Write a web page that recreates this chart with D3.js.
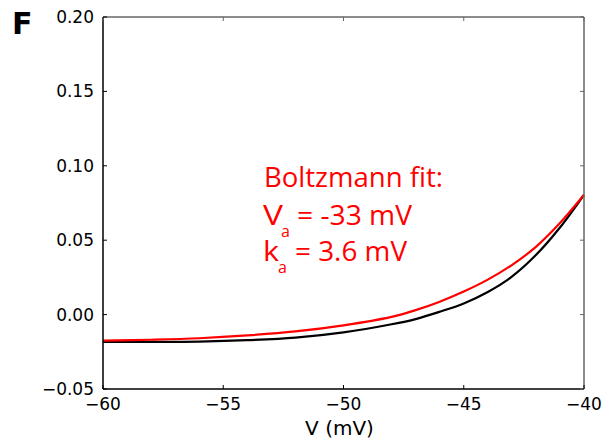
<!DOCTYPE html>
<html>
<head>
<meta charset="utf-8">
<script src="https://cdn.jsdelivr.net/npm/d3@7"></script>
<style>
  body { margin: 0; background: #fff; }
  svg { display: block; }
</style>
</head>
<body>
<svg id="chart" width="613" height="444"></svg>
<script>
(function() {
  // values
  var voltages = [-60, -58, -56, -54, -52, -50, -48, -47, -46, -45, -44, -43, -42, -41, -40];
  var measured = [-0.0183, -0.0183, -0.0181, -0.0172, -0.0155, -0.0120, -0.0065, -0.0030, 0.0019, 0.0075, 0.0152, 0.0255, 0.0400, 0.0585, 0.0805];
  var fitted   = [-0.0175, -0.0169, -0.0159, -0.0140, -0.0113, -0.0072, -0.0015, 0.0030, 0.0087, 0.0155, 0.0235, 0.0333, 0.0455, 0.0615, 0.0805];
  var xTicks = [-60, -55, -50, -45, -40];
  var yTicks = [-0.05, 0.00, 0.05, 0.10, 0.15, 0.20];
  var fitLines = [["Boltzmann fit:"], ["V", "a", "= -33 mV"], ["k", "a", "= 3.6 mV"]];

  var margin = { top: 17, right: 29, bottom: 55, left: 103 },
      outerWidth = 613,
      outerHeight = 444,
      width = outerWidth - margin.left - margin.right,
      height = outerHeight - margin.top - margin.bottom;

  var minus = s => s.replace(/-/g, "\u2212");

  var x = d3.scaleLinear().domain([-60, -40]).range([0, width]);
  var y = d3.scaleLinear().domain([-0.05, 0.20]).range([height, 0]);

  var line = d3.line()
      .x(d => x(d[0]))
      .y(d => y(d[1]))
      .curve(d3.curveCatmullRom.alpha(0.5));

  var root = d3.select("#chart");

  root.append("text")
      .attr("x", 12)
      .attr("y", 34)
      .attr("font-family", "DejaVu Sans")
      .attr("font-weight", "bold")
      .attr("font-size", "30px")
      .text("F");

  var svg = root.append("g")
      .attr("transform", `translate(${margin.left},${margin.top})`);

  // curves
  svg.append("path")
      .attr("fill", "none")
      .attr("stroke", "black")
      .attr("stroke-width", 2.2)
      .attr("d", line(d3.zip(voltages, measured)));

  svg.append("path")
      .attr("fill", "none")
      .attr("stroke", "#ff0000")
      .attr("stroke-width", 2.2)
      .attr("d", line(d3.zip(voltages, fitted)));

  // frame: top/right gray, left/bottom black
  svg.append("line").attr("x1", 0).attr("x2", width).attr("y1", 0).attr("y2", 0)
      .attr("stroke", "#666").attr("stroke-width", 1.5);
  svg.append("line").attr("x1", width).attr("x2", width).attr("y1", 0).attr("y2", height)
      .attr("stroke", "#666").attr("stroke-width", 1.5);
  svg.append("line").attr("x1", 0).attr("x2", 0).attr("y1", 0).attr("y2", height)
      .attr("stroke", "black").attr("stroke-width", 1.5);
  svg.append("line").attr("x1", 0).attr("x2", width).attr("y1", height).attr("y2", height)
      .attr("stroke", "black").attr("stroke-width", 1.5);

  // inward ticks on all four sides
  var tick = 4;
  svg.append("g")
    .selectAll("line")
    .data(xTicks)
    .join("line")
      .attr("x1", d => x(d)).attr("x2", d => x(d))
      .attr("y1", height).attr("y2", height - tick)
      .attr("stroke", "black");
  svg.append("g")
    .selectAll("line")
    .data(xTicks)
    .join("line")
      .attr("x1", d => x(d)).attr("x2", d => x(d))
      .attr("y1", 0).attr("y2", tick)
      .attr("stroke", "#666");
  svg.append("g")
    .selectAll("line")
    .data(yTicks)
    .join("line")
      .attr("x1", 0).attr("x2", tick)
      .attr("y1", d => y(d)).attr("y2", d => y(d))
      .attr("stroke", "black");
  svg.append("g")
    .selectAll("line")
    .data(yTicks)
    .join("line")
      .attr("x1", width).attr("x2", width - tick)
      .attr("y1", d => y(d)).attr("y2", d => y(d))
      .attr("stroke", "#666");

  // tick labels
  svg.append("g")
      .attr("font-family", "DejaVu Sans")
      .attr("font-size", "17px")
      .attr("text-anchor", "middle")
    .selectAll("text")
    .data(xTicks)
    .join("text")
      .attr("x", d => x(d))
      .attr("y", height + 21)
      .text(d => minus(d3.format("d")(d)));

  svg.append("g")
      .attr("font-family", "DejaVu Sans")
      .attr("font-size", "17px")
      .attr("text-anchor", "end")
    .selectAll("text")
    .data(yTicks)
    .join("text")
      .attr("x", -9)
      .attr("y", d => y(d))
      .attr("dy", "0.35em")
      .text(d => minus(d3.format(".2f")(d)));

  svg.append("text")
      .attr("x", width / 2 - 4)
      .attr("y", height + 46)
      .attr("text-anchor", "middle")
      .attr("font-family", "DejaVu Sans")
      .attr("font-size", "20px")
      .text("V (mV)");

  // annotation
  var note = root.append("g")
      .attr("fill", "#ff0000")
      .attr("font-family", "Open Sans");

  note.append("text")
      .attr("x", 264).attr("y", 186.5)
      .attr("font-size", "28px")
      .attr("textLength", 179)
      .attr("lengthAdjust", "spacingAndGlyphs")
      .text(fitLines[0][0]);

  var rows = [{ y: 225, sub: 236.5, w1: 20, subX: 281, rest: 297, restW: 115 },
              { y: 261, sub: 272.5, w1: 16, subX: 278, rest: 295, restW: 112 }];
  rows.forEach(function(r, i) {
    var parts = fitLines[i + 1];
    note.append("text")
        .attr("x", 263).attr("y", r.y)
        .attr("font-size", "28px")
        .attr("textLength", r.w1)
        .attr("lengthAdjust", "spacingAndGlyphs")
        .text(parts[0]);
    note.append("text")
        .attr("x", r.subX).attr("y", r.sub)
        .attr("font-size", "16px")
        .text(parts[1]);
    note.append("text")
        .attr("x", r.rest).attr("y", r.y)
        .attr("font-size", "28px")
        .attr("textLength", r.restW)
        .attr("lengthAdjust", "spacingAndGlyphs")
        .text(parts[2]);
  });
})();
</script>
</body>
</html>
